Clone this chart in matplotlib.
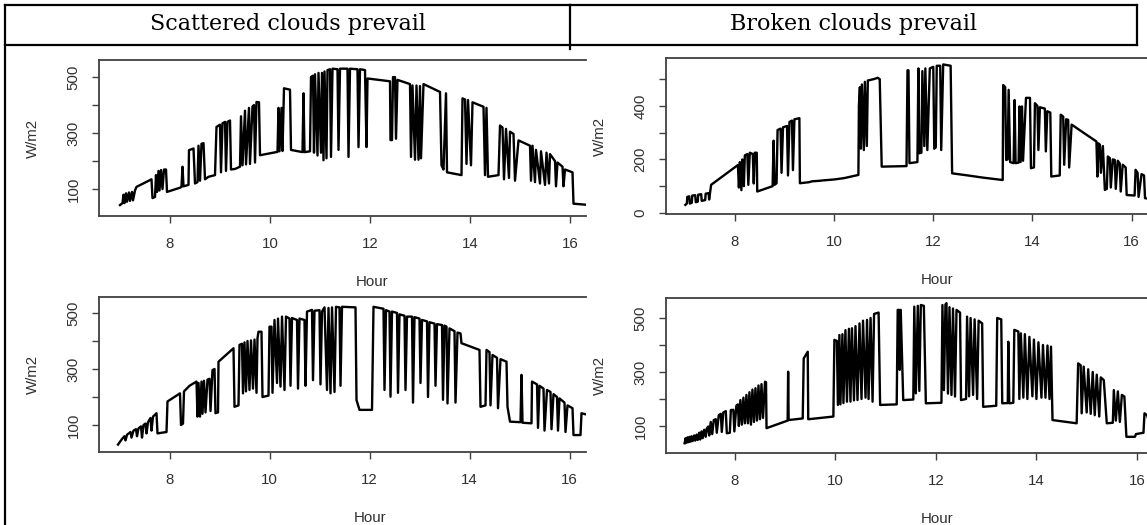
import matplotlib
matplotlib.use('Agg')
import matplotlib.pyplot as plt

plt.rcParams['font.family'] = ['Liberation Sans', 'DejaVu Sans']

## column headers
col_titles = ['Scattered clouds prevail', 'Broken clouds prevail']
hour_ticks = [8, 10, 12, 14, 16]

## scattered clouds, first day (top left)
sc1_hour = [7.00, 7.05, 7.07, 7.09, 7.12, 7.14, 7.18, 7.20, 7.24, 7.26,
            7.30, 7.33, 7.63, 7.65, 7.70, 7.72, 7.74, 7.77, 7.79, 7.82,
            7.85, 7.88, 7.92, 7.94, 8.20, 8.23, 8.25, 8.27, 8.37, 8.38,
            8.47, 8.50, 8.55, 8.57, 8.60, 8.63, 8.67, 8.70, 8.77, 8.90,
            8.93, 9.00, 9.02, 9.05, 9.10, 9.12, 9.15, 9.20, 9.22, 9.30,
            9.40, 9.42, 9.45, 9.50, 9.52, 9.58, 9.60, 9.65, 9.68, 9.70,
            9.73, 9.78, 9.80, 10.15, 10.17, 10.19, 10.23, 10.25, 10.28, 10.40,
            10.42, 10.65, 10.67, 10.69, 10.80, 10.82, 10.86, 10.88, 10.90, 10.95,
            10.97, 11.02, 11.04, 11.07, 11.09, 11.13, 11.15, 11.20, 11.22, 11.25,
            11.35, 11.37, 11.40, 11.55, 11.57, 11.60, 11.75, 11.77, 11.80, 11.90,
            11.93, 11.95, 12.40, 12.41, 12.44, 12.46, 12.50, 12.52, 12.55, 12.80,
            12.82, 12.85, 12.90, 12.93, 12.97, 13.00, 13.02, 13.07, 13.40, 13.43,
            13.47, 13.52, 13.54, 13.83, 13.85, 13.90, 13.93, 13.96, 14.02, 14.05,
            14.27, 14.30, 14.33, 14.36, 14.57, 14.60, 14.65, 14.68, 14.72, 14.78,
            14.80, 14.87, 14.90, 14.97, 15.20, 15.22, 15.25, 15.30, 15.32, 15.40,
            15.42, 15.50, 15.53, 15.58, 15.60, 15.70, 15.72, 15.75, 15.85, 15.87,
            15.90, 16.05, 16.07, 16.60]
sc1_wm2 = [43, 50, 80, 50, 85, 55, 88, 58, 90, 60,
           95, 108, 135, 68, 72, 150, 90, 165, 95, 168,
           100, 170, 170, 90, 105, 108, 180, 110, 115, 239,
           245, 120, 125, 255, 130, 262, 264, 135, 144, 150,
           322, 330, 160, 335, 340, 165, 340, 345, 170, 172,
           180, 360, 185, 380, 188, 390, 190, 395, 400, 195,
           411, 410, 221, 233, 390, 235, 390, 236, 460, 455,
           240, 232, 442, 232, 235, 500, 505, 230, 510, 220,
           515, 230, 515, 203, 520, 210, 525, 528, 215, 530,
           528, 240, 530, 530, 215, 530, 528, 250, 528, 525,
           250, 495, 485, 275, 275, 500, 500, 280, 490, 475,
           215, 470, 205, 470, 205, 468, 210, 475, 447, 185,
           170, 442, 160, 150, 424, 420, 190, 418, 185, 410,
           394, 150, 390, 144, 150, 327, 320, 135, 315, 140,
           305, 297, 130, 274, 255, 130, 255, 125, 240, 120,
           235, 115, 230, 120, 225, 200, 110, 195, 180, 110,
           170, 160, 48, 40]

## broken clouds, first day (top right)
br1_hour = [7.00, 7.03, 7.04, 7.08, 7.09, 7.13, 7.14, 7.20, 7.21, 7.25,
            7.26, 7.32, 7.33, 7.40, 7.41, 7.47, 7.48, 7.52, 8.06, 8.08,
            8.10, 8.13, 8.15, 8.18, 8.20, 8.25, 8.27, 8.30, 8.36, 8.38,
            8.40, 8.44, 8.45, 8.76, 8.78, 8.80, 8.84, 8.86, 8.92, 8.94,
            8.97, 9.05, 9.07, 9.10, 9.15, 9.17, 9.20, 9.30, 9.31, 9.50,
            9.55, 9.70, 9.80, 10.00, 10.20, 10.40, 10.49, 10.50, 10.52, 10.54,
            10.56, 10.60, 10.62, 10.66, 10.68, 10.80, 10.88, 10.92, 10.96, 11.46,
            11.48, 11.50, 11.52, 11.68, 11.70, 11.72, 11.76, 11.78, 11.82, 11.84,
            11.88, 11.93, 12.00, 12.02, 12.05, 12.07, 12.14, 12.16, 12.20, 12.35,
            12.38, 12.70, 13.00, 13.40, 13.41, 13.45, 13.47, 13.50, 13.52, 13.55,
            13.62, 13.64, 13.66, 13.72, 13.74, 13.76, 13.79, 13.81, 13.87, 13.95,
            13.97, 14.03, 14.05, 14.10, 14.12, 14.15, 14.25, 14.27, 14.30, 14.36,
            14.38, 14.55, 14.57, 14.62, 14.64, 14.68, 14.72, 14.74, 14.79, 15.29,
            15.31, 15.33, 15.36, 15.38, 15.42, 15.46, 15.50, 15.52, 15.56, 15.58,
            15.62, 15.66, 15.68, 15.72, 15.76, 15.78, 15.82, 15.88, 15.90, 16.06,
            16.08, 16.12, 16.14, 16.20, 16.25, 16.27, 16.50]
br1_wm2 = [30, 35, 60, 62, 35, 38, 65, 66, 40, 42,
           68, 70, 45, 48, 72, 74, 50, 105, 179, 95,
           190, 85, 200, 100, 215, 220, 105, 225, 220, 110,
           225, 225, 80, 100, 270, 105, 111, 310, 315, 150,
           320, 325, 140, 340, 345, 160, 350, 354, 111, 115,
           118, 120, 122, 125, 130, 138, 142, 400, 470, 240,
           480, 235, 490, 250, 495, 500, 505, 500, 173, 175,
           533, 533, 186, 190, 540, 223, 225, 530, 250, 540,
           235, 540, 546, 240, 245, 550, 550, 235, 555, 550,
           148, 140, 132, 123, 478, 470, 198, 200, 460, 190,
           186, 422, 186, 188, 398, 190, 398, 195, 430, 430,
           167, 170, 410, 400, 235, 395, 390, 230, 380, 375,
           136, 140, 367, 360, 180, 350, 348, 170, 330, 267,
           136, 260, 255, 150, 250, 86, 90, 211, 205, 95,
           200, 198, 90, 195, 185, 80, 180, 170, 67, 65,
           161, 150, 60, 145, 140, 55, 50]

## scattered clouds, second day (bottom left)
sc2_hour = [6.97, 7.05, 7.10, 7.12, 7.15, 7.22, 7.24, 7.28, 7.33, 7.35,
            7.38, 7.43, 7.45, 7.48, 7.52, 7.54, 7.57, 7.62, 7.64, 7.67,
            7.74, 7.76, 7.94, 7.96, 8.10, 8.21, 8.23, 8.27, 8.29, 8.40,
            8.54, 8.56, 8.58, 8.61, 8.64, 8.66, 8.69, 8.72, 8.76, 8.80,
            8.82, 8.86, 8.90, 8.92, 8.97, 8.98, 9.28, 9.30, 9.38, 9.40,
            9.45, 9.47, 9.50, 9.53, 9.56, 9.60, 9.63, 9.67, 9.70, 9.74,
            9.76, 9.78, 9.84, 9.86, 9.98, 10.00, 10.04, 10.06, 10.10, 10.15,
            10.17, 10.22, 10.25, 10.30, 10.33, 10.40, 10.42, 10.45, 10.55, 10.57,
            10.60, 10.70, 10.72, 10.75, 10.85, 10.87, 10.90, 11.00, 11.02, 11.05,
            11.10, 11.15, 11.18, 11.22, 11.25, 11.30, 11.33, 11.40, 11.42, 11.45,
            11.72, 11.74, 11.80, 12.05, 12.08, 12.28, 12.30, 12.33, 12.40, 12.42,
            12.45, 12.55, 12.57, 12.60, 12.70, 12.72, 12.75, 12.85, 12.87, 12.90,
            13.00, 13.02, 13.05, 13.15, 13.17, 13.20, 13.30, 13.32, 13.35, 13.45,
            13.47, 13.50, 13.54, 13.56, 13.60, 13.70, 13.72, 13.76, 13.82, 13.84,
            14.20, 14.22, 14.32, 14.34, 14.40, 14.42, 14.46, 14.55, 14.57, 14.62,
            14.74, 14.76, 14.81, 15.02, 15.04, 15.06, 15.24, 15.25, 15.35, 15.37,
            15.40, 15.48, 15.50, 15.55, 15.62, 15.64, 15.68, 15.75, 15.77, 15.80,
            15.90, 15.92, 15.96, 16.06, 16.08, 16.22, 16.24, 16.50]
sc2_wm2 = [30, 50, 60, 45, 65, 75, 55, 80, 85, 60,
           88, 95, 55, 100, 105, 70, 110, 125, 80, 130,
           142, 70, 75, 184, 200, 213, 100, 105, 220, 240,
           255, 130, 250, 130, 255, 140, 258, 145, 262, 265,
           150, 296, 300, 142, 145, 326, 374, 165, 170, 386,
           390, 213, 395, 220, 400, 225, 402, 230, 405, 215,
           410, 433, 433, 200, 205, 451, 451, 215, 475, 250,
           480, 237, 487, 225, 487, 480, 240, 482, 475, 230,
           480, 475, 240, 505, 511, 260, 508, 510, 245, 505,
           520, 225, 518, 213, 520, 218, 522, 520, 240, 522,
           520, 189, 154, 154, 522, 515, 225, 510, 505, 201,
           505, 500, 215, 495, 490, 225, 487, 487, 180, 485,
           480, 250, 475, 470, 200, 467, 462, 240, 460, 457,
           190, 455, 451, 177, 445, 435, 180, 430, 427, 392,
           368, 165, 170, 368, 360, 170, 350, 340, 160, 335,
           326, 165, 112, 110, 279, 108, 106, 255, 245, 90,
           240, 230, 80, 225, 218, 85, 210, 200, 80, 195,
           180, 75, 170, 160, 64, 64, 142, 130]

## broken clouds, second day (bottom right)
br2_hour = [7.00, 7.02, 7.04, 7.06, 7.08, 7.10, 7.12, 7.14, 7.16, 7.19,
            7.21, 7.24, 7.26, 7.29, 7.31, 7.34, 7.36, 7.39, 7.42, 7.44,
            7.47, 7.49, 7.52, 7.55, 7.58, 7.62, 7.64, 7.68, 7.72, 7.74,
            7.77, 7.82, 7.84, 7.90, 7.92, 7.97, 7.99, 8.03, 8.06, 8.08,
            8.11, 8.14, 8.17, 8.20, 8.23, 8.26, 8.29, 8.32, 8.35, 8.38,
            8.41, 8.44, 8.47, 8.50, 8.53, 8.56, 8.60, 8.62, 8.63, 9.05,
            9.06, 9.07, 9.35, 9.37, 9.45, 9.46, 9.96, 9.98, 10.03, 10.05,
            10.08, 10.10, 10.14, 10.16, 10.20, 10.23, 10.27, 10.30, 10.33, 10.37,
            10.40, 10.44, 10.48, 10.52, 10.55, 10.60, 10.63, 10.66, 10.70, 10.74,
            10.77, 10.86, 10.89, 11.22, 11.24, 11.27, 11.28, 11.30, 11.35, 11.55,
            11.57, 11.60, 11.64, 11.67, 11.70, 11.76, 11.80, 12.11, 12.13, 12.16,
            12.19, 12.21, 12.24, 12.27, 12.31, 12.34, 12.38, 12.41, 12.48, 12.50,
            12.60, 12.62, 12.66, 12.69, 12.74, 12.77, 12.82, 12.85, 12.92, 12.94,
            13.20, 13.22, 13.30, 13.32, 13.43, 13.44, 13.46, 13.54, 13.56, 13.64,
            13.66, 13.69, 13.74, 13.77, 13.82, 13.86, 13.92, 13.95, 14.00, 14.04,
            14.10, 14.13, 14.18, 14.22, 14.26, 14.29, 14.32, 14.80, 14.83, 14.88,
            14.90, 14.94, 15.00, 15.03, 15.08, 15.12, 15.16, 15.20, 15.25, 15.28,
            15.34, 15.40, 15.52, 15.54, 15.58, 15.62, 15.66, 15.70, 15.75, 15.79,
            15.96, 15.98, 16.13, 16.15, 16.20, 16.25, 16.50]
br2_wm2 = [36, 55, 38, 58, 40, 60, 42, 62, 44, 65,
           46, 68, 48, 75, 50, 80, 55, 86, 60, 90,
           98, 65, 115, 70, 122, 125, 75, 140, 145, 78,
           150, 155, 73, 75, 159, 160, 80, 175, 180, 100,
           196, 105, 205, 110, 215, 110, 225, 105, 235, 115,
           240, 120, 250, 125, 255, 130, 264, 262, 92, 120,
           301, 122, 128, 350, 375, 125, 135, 419, 415, 178,
           437, 180, 440, 185, 455, 190, 460, 190, 462, 195,
           470, 196, 480, 200, 490, 205, 493, 200, 500, 190,
           515, 520, 178, 180, 530, 530, 308, 530, 196, 198,
           542, 221, 545, 230, 548, 545, 184, 186, 548, 233,
           550, 555, 220, 540, 215, 535, 209, 530, 520, 196,
           200, 505, 210, 500, 215, 495, 200, 490, 480, 171,
           175, 500, 495, 184, 185, 412, 184, 186, 456, 450,
           200, 443, 205, 440, 200, 430, 210, 420, 200, 410,
           205, 400, 205, 398, 200, 394, 122, 110, 332, 325,
           147, 320, 150, 310, 145, 300, 140, 290, 135, 280,
           270, 110, 112, 233, 120, 228, 115, 215, 209, 60,
           60, 70, 75, 147, 140, 110, 100]

W, H = 1147, 525
fig = plt.figure(figsize=(W / 100, H / 100), dpi=100)

# table frame drawn in pixel units
frame = fig.add_axes([0, 0, 1, 1])
frame.set_xlim(0, W)
frame.set_ylim(H, 0)
frame.axis('off')
kw = dict(color='black', lw=1.6, solid_capstyle='projecting')
frame.plot([5, 570], [5, 5], **kw)
frame.plot([5, 570], [45, 45], **kw)
frame.plot([5, 5], [5, 525], **kw)
frame.plot([570, 570], [5, 49], **kw)
frame.plot([570, 1137], [5, 5], **kw)
frame.plot([570, 1137], [45, 45], **kw)
frame.plot([1137, 1137], [5, 45], **kw)
fig.text(288 / W, 1 - 24 / H, col_titles[0], family='DejaVu Serif', size=16,
         ha='center', va='center')
fig.text(854 / W, 1 - 24 / H, col_titles[1], family='DejaVu Serif', size=16,
         ha='center', va='center')


def panel(box, hours, wm2, xlim, ylim, yticks, ylabels, xlab_x):
    l, t, r, b = box
    ax = fig.add_axes([l / W, 1 - b / H, (r - l) / W, (b - t) / H])
    ax.plot(hours, wm2, color='black', lw=1.7)
    ax.set_xlim(*xlim)
    ax.set_ylim(*ylim)
    ax.set_xticks(hour_ticks, [str(h) for h in hour_ticks])
    ax.set_yticks(yticks, ylabels, rotation=90, va='center')
    ax.spines['right'].set_visible(False)
    for s in ax.spines.values():
        s.set_color('#404040')
        s.set_linewidth(1.3)
    ax.tick_params(direction='out', length=5, width=1, color='#404040',
                   labelsize=10.8, labelcolor='#303030')
    ax.tick_params(axis='x', pad=9.9)
    ax.tick_params(axis='y', pad=8.2)
    ax.set_xlabel('Hour', fontsize=10.8, color='#303030')
    ax.xaxis.set_label_coords(xlab_x, -66 / (b - t))
    ax.xaxis.label.set_va('center')
    ax.set_ylabel('W/m2', fontsize=10.8, color='#303030')
    ax.yaxis.set_label_coords(-66 / (r - l), 0.5)
    ax.yaxis.label.set_va('center')
    return ax


yt = [100, 200, 300, 400, 500]
yl = ['100', '', '300', '', '500']
panel((99, 60, 586, 216), sc1_hour, sc1_wm2, (6.58, 16.32), (4, 561), yt, yl, 0.56)
panel((666, 58, 1147, 214), br1_hour, br1_wm2, (6.61, 16.31), (-4, 579),
      [0, 100, 200, 300, 400, 500], ['0', '', '200', '', '400', ''], 0.563)
panel((99, 297, 586, 452), sc2_hour, sc2_wm2, (6.59, 16.33), (3.6, 557), yt, yl, 0.556)
panel((666, 298, 1147, 453), br2_hour, br2_wm2, (6.63, 16.2), (0, 574), yt, yl, 0.563)

fig.savefig('out.png', dpi=100)
